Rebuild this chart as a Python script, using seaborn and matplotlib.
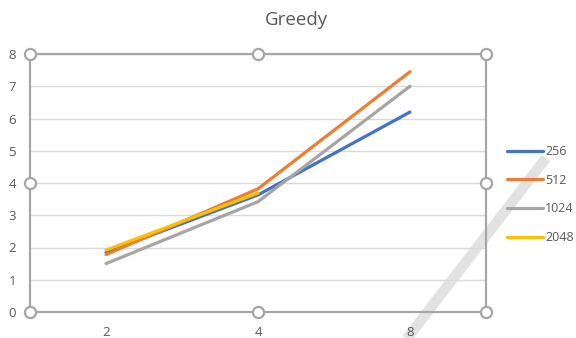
import numpy as np
import pandas as pd
import matplotlib
matplotlib.use("Agg")
import matplotlib.pyplot as plt
from matplotlib.lines import Line2D
import seaborn as sns

# Data
threads = ["2", "4", "8"]
series_names = ["256", "512", "1024", "2048"]
vals_256 = [1.85, 3.63, 6.20]
vals_512 = [1.78, 3.82, 7.45]
vals_1024 = [1.50, 3.42, 7.00]
vals_2048 = [1.92, 3.69, np.nan]
y_ticks = [0, 1, 2, 3, 4, 5, 6, 7, 8]

colors = ["#4472C4", "#ED7D31", "#A5A5A5", "#FFC000"]

rows = []
for name, vals in zip(series_names, [vals_256, vals_512, vals_1024, vals_2048]):
    for t, v in zip(threads, vals):
        rows.append({"threads": t, "speedup": v, "size": name})
df = pd.DataFrame(rows)

sns.set_theme(style="white")
plt.rcParams["font.family"] = ["Open Sans", "DejaVu Sans"]

fig = plt.figure(figsize=(5.76, 3.38), dpi=100)
fig.patch.set_facecolor("white")
ax = fig.add_axes([30 / 576, 1 - 312 / 338, 456 / 576, 258 / 338])
ax.patch.set_alpha(0)

# light diagonal band behind the plot
band = Line2D([546 / 576, 402 / 576], [1 - 158 / 338, 1 - 345 / 338],
              transform=fig.transFigure, color="#e2e2e2", lw=7.5,
              solid_capstyle="butt", zorder=-5)
fig.add_artist(band)

sns.lineplot(data=df, x="threads", y="speedup", hue="size",
             hue_order=series_names, palette=colors, linewidth=2.3,
             ax=ax, legend=False, sort=False)

ax.set_xlim(-0.5, 2.5)
ax.set_ylim(0, 8)
ax.set_yticks(y_ticks)
ax.set_yticklabels([str(v) for v in y_ticks])
ax.set_xlabel("")
ax.set_ylabel("")
ax.yaxis.grid(True, color="#d9d9d9", lw=1)
ax.xaxis.grid(False)
ax.set_axisbelow(True)
ax.tick_params(axis="both", length=0, labelsize=9.5, colors="#595959")
ax.tick_params(axis="y", pad=10)
ax.tick_params(axis="x", pad=10)
for s in ax.spines.values():
    s.set_visible(True)
    s.set_color("#a6a6a6")
    s.set_linewidth(1.6)

# selection handles around the plot area
hx = [0, 0.5, 1, 0, 1, 0, 0.5, 1]
hy = [1, 1, 1, 0.5, 0.5, 0, 0, 0]
ax.plot(hx, hy, transform=ax.transAxes, ls="none", marker="o", ms=8,
        mfc="white", mec="#a6a6a6", mew=1.6, clip_on=False, zorder=10)

fig.text(296 / 576, 1 - 20 / 338, "Greedy", ha="center", va="center",
         fontsize=13.5, color="#595959")

handles = [Line2D([0], [0], color=c, lw=2.3) for c in colors]
fig.legend(handles, series_names, loc="upper left",
           bbox_to_anchor=(507 / 576, 1 - 145 / 338), frameon=False,
           fontsize=9, handlelength=2.9, handletextpad=0.15,
           labelspacing=1.25, borderpad=0, borderaxespad=0,
           labelcolor="#595959")

fig.savefig("out.png", dpi=100)
